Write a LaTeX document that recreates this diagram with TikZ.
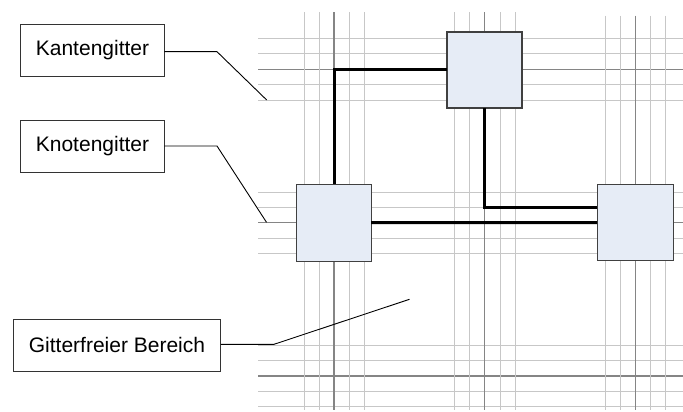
\documentclass[tikz,border=0pt]{standalone}
\usepackage{fontspec}
\setmainfont{Liberation Sans}
\begin{document}
\begin{tikzpicture}[x=1pt,y=-1pt,
  thin grid/.style={draw=black!22, line width=1pt},
  thick grid/.style={draw=black!48, line width=1.4pt},
  cell/.style={draw=black!75, fill=cellblue, line width=1.1pt, minimum width=75pt, minimum height=76pt, inner sep=0pt, outer sep=0pt},
  lbl/.style={draw=black!80, fill=white, line width=0.9pt, inner sep=0pt, outer sep=0pt, font=\fontsize{21}{25}\selectfont},
  conn/.style={draw=black, line width=3pt},
  leader/.style={draw=black, line width=0.9pt}]
\definecolor{cellblue}{HTML}{E6ECF6}
\useasboundingbox (0,0) rectangle (683,412);
% horizontal grid lines
\foreach \y/\s in {39/thin grid,54/thin grid,69.5/thick grid,85/thin grid,100/thin grid,
                   192.3/thin grid,207.7/thin grid,222.7/thick grid,238.3/thin grid,253.7/thin grid,
                   345.3/thin grid,360.7/thin grid,376/thick grid,391.3/thin grid,406.7/thin grid}
  \draw[\s] (258,\y) -- (683,\y);
% vertical grid lines
\foreach \x/\s in {304/thin grid,319.3/thin grid,334/thick grid,349/thin grid,364.3/thin grid,
                   454.3/thin grid,469.7/thin grid,484.6/thick grid,500/thin grid,515/thin grid}
  \draw[\s] (\x,12.3) -- (\x,410);
\foreach \x/\s in {605.3/thin grid,620.3/thin grid,635.3/thick grid,650.3/thin grid,665.3/thin grid}
  \draw[\s] (\x,15.7) -- (\x,410);
% cells
\node[cell] (top) at (484.5,70) {};
\node[cell, minimum height=77pt] (left) at (333.7,222.6) {};
\node[cell, minimum width=76pt] (right) at (635.2,222.7) {};
% connectors
\coordinate (c1) at (334,69.6);
\coordinate (c2) at (484.6,207.7);
\draw[conn, line join=miter] (top.west |- c1) -- (c1) -- (c1 |- left.north);
\draw[conn, line join=miter] (top.south -| c2) -- (c2) -- (c2 -| right.west);
\draw[conn] (left.east) -- (right.west);
% labels
\node[lbl, minimum width=143.5pt, minimum height=52.5pt] (kg) at (92.5,50.5) {Kantengitter};
\node[lbl, minimum width=143.5pt, minimum height=52.5pt] (ng) at (92.5,146.3) {Knotengitter};
\node[lbl, minimum width=207.5pt, minimum height=51.7pt] (gb) at (117,345.2) {Gitterfreier Bereich};
% leaders
\coordinate (kgA) at (217,51.7);
\coordinate (kgB) at (266.7,100);
\coordinate (ngA) at (217,146);
\coordinate (ngB) at (266.5,222.3);
\coordinate (gbA) at (274,344.3);
\coordinate (gbB) at (409.5,299.3);
\draw[leader] (kg.east |- kgA) -- (kgA) -- (kgB);
\draw[leader] (ng.east |- ngA) -- (ngA) -- (ngB);
\draw[leader] (gb.east |- gbA) -- (gbA) -- (gbB);
\end{tikzpicture}
\end{document}
